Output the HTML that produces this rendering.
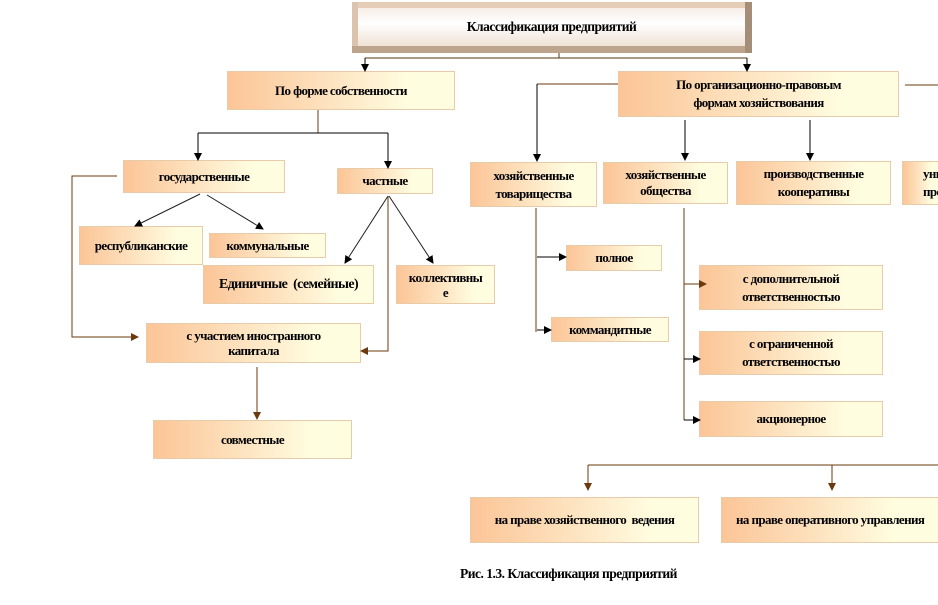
<!DOCTYPE html>
<html><head><meta charset="utf-8"><style>
html,body{margin:0;padding:0;background:#fff;}
body{width:938px;height:605px;position:relative;overflow:hidden;font-family:"Liberation Serif","DejaVu Serif",serif;}
.b{position:absolute;box-sizing:border-box;border:1px solid #e8cba9;background:linear-gradient(to right,#fcc597 0%,#fde3c0 45%,#fffde0 80%,#fffde0 100%);display:flex;align-items:center;justify-content:center;text-align:center;font-weight:bold;font-size:13px;letter-spacing:-0.6px;line-height:18px;color:#000;white-space:nowrap;overflow:hidden;}
.top{position:absolute;left:352px;top:2px;width:400px;height:51px;box-sizing:border-box;background:#e5cdb8;}
.top .in{position:absolute;left:6px;top:6px;right:7px;bottom:7px;background:linear-gradient(to bottom,#f6ede6,#ffffff 40%,#efe2d6);display:flex;align-items:center;justify-content:center;font-weight:bold;font-size:13.5px;letter-spacing:-0.5px;}
.top .bt{position:absolute;left:0;right:0;bottom:0;height:7px;background:#bca58c;}
.top .rt{position:absolute;top:0;right:0;bottom:0;width:7px;background:#a48e78;}
.top .lt{position:absolute;top:0;left:0;bottom:0;width:6px;background:#dcc3ad;}
svg{position:absolute;left:0;top:0;}
.cap{position:absolute;left:460px;top:566px;font-weight:bold;font-size:13.5px;letter-spacing:-0.5px;}
</style></head><body>
<div class="top"><div class="lt"></div><div class="bt"></div><div class="rt"></div><div class="in">Классификация предприятий</div></div>

<div class="b" style="left:227px;top:71px;width:228px;height:39px;">По форме собственности</div>
<div class="b" style="left:618px;top:71px;width:281px;height:46px;">По организационно-правовым<br>формам хозяйствования</div>
<div class="b" style="left:123px;top:160px;width:162px;height:33px;">государственные</div>
<div class="b" style="left:337px;top:168px;width:96px;height:26px;">частные</div>
<div class="b" style="left:470px;top:162px;width:127px;height:45px;">хозяйственные<br>товарищества</div>
<div class="b" style="left:603px;top:162px;width:125px;height:42px;line-height:16px;align-items:flex-start;padding-top:4px;">хозяйственные<br>общества</div>
<div class="b" style="left:736px;top:161px;width:155px;height:44px;">производственные<br>кооперативы</div>
<div class="b" style="left:902px;top:161px;width:36px;height:44px;border-right:none;justify-content:flex-start;padding-left:20px;text-align:left;">унитарные<br>предприятия</div>
<div class="b" style="left:79px;top:226px;width:124px;height:39px;">республиканские</div>
<div class="b" style="left:209px;top:233px;width:117px;height:25px;">коммунальные</div>
<div class="b" style="left:203px;top:265px;width:171px;height:39px;font-size:14px;">Единичные&nbsp; (семейные)</div>
<div class="b" style="left:396px;top:265px;width:99px;height:39px;line-height:15px;align-items:flex-start;padding-top:4px;">коллективны<br>е</div>
<div class="b" style="left:566px;top:245px;width:96px;height:26px;">полное</div>
<div class="b" style="left:551px;top:317px;width:118px;height:25px;">коммандитные</div>
<div class="b" style="left:699px;top:265px;width:184px;height:45px;">с дополнительной<br>ответственностью</div>
<div class="b" style="left:699px;top:331px;width:184px;height:44px;">с ограниченной<br>ответственностью</div>
<div class="b" style="left:699px;top:401px;width:184px;height:36px;">акционерное</div>
<div class="b" style="left:146px;top:323px;width:215px;height:40px;line-height:15px;">с участием иностранного<br>капитала</div>
<div class="b" style="left:153px;top:420px;width:199px;height:39px;">совместные</div>
<div class="b" style="left:470px;top:497px;width:229px;height:46px;">на праве хозяйственного &nbsp;ведения</div>
<div class="b" style="left:721px;top:497px;width:217px;height:46px;border-right:none;justify-content:flex-start;padding-left:14px;">на праве оперативного управления</div>
<div class="cap">Рис. 1.3. Классификация предприятий</div>

<svg width="938" height="605" viewBox="0 0 938 605">
<defs>
<marker id="k" markerWidth="8" markerHeight="8" refX="7" refY="4" orient="auto" markerUnits="userSpaceOnUse"><path d="M0,0 L8,4 L0,8 z" fill="#000"/></marker>
<marker id="br" markerWidth="8" markerHeight="8" refX="7" refY="4" orient="auto" markerUnits="userSpaceOnUse"><path d="M0,0 L8,4 L0,8 z" fill="#6b3a0c"/></marker>
</defs>
<g fill="none" stroke-width="1">
<path d="M559,53 V58 M365,58 H747" stroke="#5a3410"/>
<path d="M365,58 V71" stroke="#000" marker-end="url(#k)"/>
<path d="M747,58 V71" stroke="#000" marker-end="url(#k)"/>
<path d="M318,110 V133" stroke="#6b3a0c"/>
<path d="M198,133 H388" stroke="#000"/>
<path d="M198,133 V160" stroke="#000" marker-end="url(#k)"/>
<path d="M388,133 V168" stroke="#000" marker-end="url(#k)"/>
<path d="M200,194 L135,226" stroke="#222" marker-end="url(#k)"/>
<path d="M207,195 L263,229" stroke="#222" marker-end="url(#k)"/>
<path d="M388,196 L345,263" stroke="#222" marker-end="url(#k)"/>
<path d="M389,196 L433,263" stroke="#222" marker-end="url(#k)"/>
<path d="M388,196 V351 H361" stroke="#6b3a0c" marker-end="url(#br)"/>
<path d="M117,176 H72 V337 H138" stroke="#6b3a0c" marker-end="url(#br)"/>
<path d="M257,367 V419" stroke="#6b3a0c" marker-end="url(#br)"/>
<path d="M618,84 H537" stroke="#6b3a0c"/>
<path d="M537,84 V161" stroke="#000" marker-end="url(#k)"/>
<path d="M905,85 H938" stroke="#6b3a0c"/>
<path d="M685,120 V160" stroke="#000" marker-end="url(#k)"/>
<path d="M810,120 V160" stroke="#000" marker-end="url(#k)"/>
<path d="M536,208 V332" stroke="#6b3a0c"/>
<path d="M537,257 H566" stroke="#000" marker-end="url(#k)"/>
<path d="M537,330 H551" stroke="#000" marker-end="url(#k)"/>
<path d="M684,208 V420" stroke="#6b3a0c"/>
<path d="M684,284 H706" stroke="#6b3a0c" marker-end="url(#br)"/>
<path d="M684,359 H700" stroke="#000" marker-end="url(#k)"/>
<path d="M684,420 H700" stroke="#000" marker-end="url(#k)"/>
<path d="M588,465 H938" stroke="#6b3a0c"/>
<path d="M588,465 V490" stroke="#6b3a0c" marker-end="url(#br)"/>
<path d="M832,465 V490" stroke="#6b3a0c" marker-end="url(#br)"/>
</g>
</svg>
</body></html>
